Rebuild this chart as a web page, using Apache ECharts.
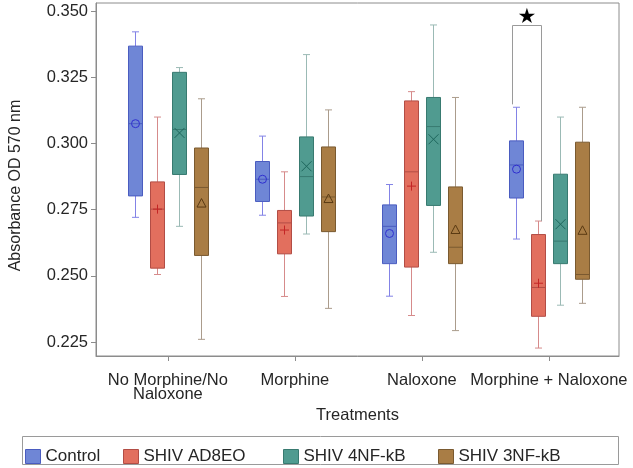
<!DOCTYPE html>
<html><head><meta charset="utf-8">
<script src="https://cdn.jsdelivr.net/npm/echarts@6/dist/echarts.min.js"></script>
<style>html,body{margin:0;padding:0;background:#fff}#c{width:633px;height:468px}</style>
</head><body><div id="c"></div>
<script>
const categories = ['No Morphine/No\nNaloxone', 'Morphine', 'Naloxone', 'Morphine + Naloxone'];
const groups = ['Control', 'SHIV AD8EO', 'SHIV 4NF-kB', 'SHIV 3NF-kB'];
// each box: [min, q1, median, q3, max]
const controlBox = [[0.2721,0.2802,0.3075,0.3368,0.3422],[0.2729,0.2781,0.2865,0.2932,0.3028],[0.2423,0.2546,0.2687,0.2768,0.2845],[0.2639,0.2794,0.2919,0.3010,0.3137]];
const controlMean = [0.3075, 0.2865, 0.2660, 0.2903];
const ad8eoBox = [[0.2505,0.2529,0.2752,0.2855,0.3100],[0.2422,0.2583,0.2700,0.2747,0.2893],[0.2350,0.2533,0.2893,0.3161,0.3196],[0.2227,0.2347,0.2456,0.2656,0.2707]];
const ad8eoMean = [0.2752, 0.2673, 0.2839, 0.2472];
const nf4Box = [[0.2687,0.2883,0.3053,0.3269,0.3287],[0.2658,0.2726,0.2875,0.3025,0.3336],[0.2589,0.2766,0.3064,0.3174,0.3448],[0.2389,0.2546,0.2631,0.2884,0.3100]];
const nf4Mean = [0.3040, 0.2914, 0.3016, 0.2695];
const nf3Box = [[0.2260,0.2577,0.2834,0.2983,0.3169],[0.2377,0.2667,0.2798,0.2987,0.3127],[0.2293,0.2546,0.2608,0.2836,0.3174],[0.2396,0.2487,0.2505,0.3005,0.3137]];
const nf3Mean = [0.2775, 0.2792, 0.2675, 0.2672];
const yTicks = [0.225, 0.250, 0.275, 0.300, 0.325, 0.350];
// significance bracket: [category index, left leg bottom, bracket top, right leg bottom]
const sigBracket = [[3, 0.3148, 0.3447, 0.2707]];

const FONT = 'Liberation Sans, Arial, sans-serif';
const styles = [
  {fill:'#6f86d6', border:'#4a5cc0', whisker:'#8383e6', mean:'#2f2fcf', mark:'circle', off:-33},
  {fill:'#e26f5e', border:'#b24d45', whisker:'#d68b8b', mean:'#c42525', mark:'plus', off:-11},
  {fill:'#509b90', border:'#387a70', whisker:'#9bbab5', mean:'#1d665c', mark:'x', off:11},
  {fill:'#a97d45', border:'#7a5a30', whisker:'#ab9c8c', mean:'#5a3a12', mark:'tri', off:33}
];
const boxes = [controlBox, ad8eoBox, nf4Box, nf3Box];
const means = [controlMean, ad8eoMean, nf4Mean, nf3Mean];

function markerShape(kind, cx, cy, color) {
  const s = {stroke: color, lineWidth: 1, fill: null};
  if (kind === 'circle') return [{type:'circle', shape:{cx:cx, cy:cy, r:4}, style:s}];
  if (kind === 'plus') return [
    {type:'line', shape:{x1:cx-4.5,y1:cy,x2:cx+4.5,y2:cy}, style:s},
    {type:'line', shape:{x1:cx,y1:cy-4.5,x2:cx,y2:cy+4.5}, style:s}];
  if (kind === 'x') return [
    {type:'line', shape:{x1:cx-5,y1:cy-5,x2:cx+5,y2:cy+5}, style:s},
    {type:'line', shape:{x1:cx-5,y1:cy+5,x2:cx+5,y2:cy-5}, style:s}];
  return [{type:'polygon', shape:{points:[[cx-4.5,cy+4],[cx+4.5,cy+4],[cx,cy-4.5]]}, style:s}];
}

function makeRender(st) {
  return function (params, api) {
    const i = api.value(0);
    const cx = Math.round(api.coord([i, 0.3])[0] + st.off) + 0.5;
    const y = k => api.coord([i, api.value(k)])[1];
    const yMin = y(1), yQ1 = y(2), yMed = y(3), yQ3 = y(4), yMax = y(5), yMean = y(6);
    const hw = 7, cw = 3.5;
    const w = {stroke: st.whisker, lineWidth: 1};
    const children = [
      {type:'line', shape:{x1:cx,y1:yMax,x2:cx,y2:yQ3}, style:w},
      {type:'line', shape:{x1:cx,y1:yQ1,x2:cx,y2:yMin}, style:w},
      {type:'line', shape:{x1:cx-cw,y1:yMax,x2:cx+cw,y2:yMax}, style:w},
      {type:'line', shape:{x1:cx-cw,y1:yMin,x2:cx+cw,y2:yMin}, style:w},
      {type:'rect', shape:{x:cx-hw,y:yQ3,width:2*hw,height:yQ1-yQ3}, style:{fill:st.fill, stroke:st.border, lineWidth:1}},
      {type:'line', shape:{x1:cx-hw,y1:yMed,x2:cx+hw,y2:yMed}, style:{stroke:st.border, lineWidth:1}}
    ].concat(markerShape(st.mark, cx, yMean, st.mean));
    return {type:'group', children: children};
  };
}

const series = groups.map((g, k) => ({
  name: g,
  type: 'custom',
  itemStyle: {color: styles[k].fill, borderColor: styles[k].border},
  renderItem: makeRender(styles[k]),
  encode: {x: 0, y: [1, 2, 3, 4, 5, 6]},
  data: boxes[k].map((b, i) => [i].concat(b, [means[k][i]]))
}));

series.push({
  name: 'sig',
  type: 'custom',
  silent: true,
  renderItem: function (params, api) {
    const i = api.value(0);
    const c = api.coord([i, 0.3])[0];
    const xl = Math.round(c - 37) + 0.5, xr = Math.round(c - 8) + 0.5;
    const yl = api.coord([i, api.value(1)])[1];
    const yt = Math.round(api.coord([i, api.value(2)])[1]) + 0.5;
    const yr = api.coord([i, api.value(3)])[1];
    return {type:'group', children:[
      {type:'polyline', shape:{points:[[xl,yl],[xl,yt],[xr,yt],[xr,yr]]}, style:{stroke:'#9a9a9a', lineWidth:1, fill:null}},
      {type:'text', style:{text:'★', x:(xl+xr)/2, y:yt+3, align:'center', verticalAlign:'bottom', fontSize:21, fill:'#000', fontFamily:'DejaVu Sans'}}
    ]};
  },
  encode: {x: 0, y: [1, 2, 3]},
  data: sigBracket
});

const legendLeft = [25, 123, 283, 438];
const legends = groups.map((g, k) => ({
  left: legendLeft[k], top: 448, padding: 0,
  itemWidth: 15, itemHeight: 14, icon: 'rect',
  textStyle: {fontSize: 17, color: '#262626', fontFamily: FONT},
  data: [{name: g, itemStyle: {color: styles[k].fill, borderColor: styles[k].border, borderWidth: 1}}]
}));

const chart = echarts.init(document.getElementById('c'));
chart.setOption({
  animation: false,
  backgroundColor: '#fff',
  grid: {left: 93, right: 14, top: 3, bottom: 112, show: true, borderColor: '#8c8c8c', borderWidth: 1},
  legend: legends,
  graphic: [{type:'rect', shape:{x:22.5, y:436.5, width:596, height:28}, style:{fill:null, stroke:'#9a9a9a', lineWidth:1}}],
  xAxis: {
    type: 'value', min: -0.566, max: 3.552,
    name: 'Treatments', nameLocation: 'middle', nameGap: 40,
    nameTextStyle: {fontSize: 16.5, color: '#262626', fontFamily: FONT},
    axisLine: {show: true, onZero: false, lineStyle: {color: '#8c8c8c'}},
    axisTick: {show: true, length: 5, lineStyle: {color: '#8c8c8c'}, customValues: [0, 1, 2, 3]},
    axisLabel: {customValues: [0, 1, 2, 3], formatter: v => categories[Math.round(v)], fontSize: 16.5, lineHeight: 14, color: '#262626', fontFamily: FONT, margin: 17},
    splitLine: {show: false}
  },
  yAxis: {
    type: 'value', min: 0.2197, max: 0.3531,
    name: 'Absorbance OD 570 nm', nameLocation: 'middle', nameGap: 72,
    nameTextStyle: {fontSize: 16, color: '#262626', fontFamily: FONT, padding: [0, 12, 0, 0]},
    axisLine: {show: true, onZero: false, lineStyle: {color: '#8c8c8c'}},
    axisTick: {show: true, length: 5, lineStyle: {color: '#8c8c8c'}, customValues: yTicks},
    axisLabel: {customValues: yTicks, formatter: v => v.toFixed(3), fontSize: 16.5, color: '#262626', fontFamily: FONT, margin: 8},
    splitLine: {show: false}
  },
  series: series
});
</script>
</body></html>
